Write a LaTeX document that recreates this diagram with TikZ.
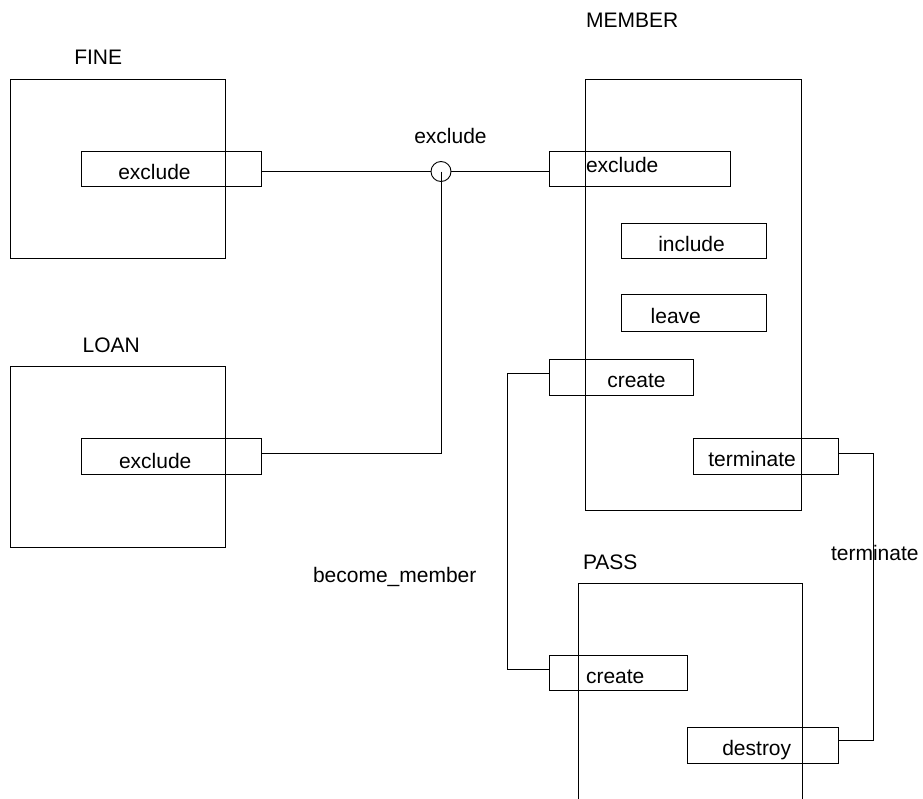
\documentclass[tikz,border=0pt]{standalone}
\usepackage{fontspec}
\setmainfont{Liberation Sans}
\begin{document}
\begin{tikzpicture}[x=1pt,y=-1pt,
  line width=0.9pt,
  every node/.style={font=\fontsize{21}{25}\selectfont},
  objbox/.style={draw, inner sep=0pt, outer sep=0pt},
  portbox/.style={draw, inner sep=0pt, outer sep=0pt},
  txt/.style={anchor=base west, inner sep=0pt, outer sep=0pt},
  junction/.style={draw, circle, minimum size=20pt, inner sep=0pt, outer sep=0pt},
  wire/.style={draw}]
\useasboundingbox (0,0) rectangle (923,798);
\clip (0,0) rectangle (923,798);

% object boxes
\node[objbox, minimum width=215pt, minimum height=179pt] (fine) at (117.5,168.5) {};
\node[objbox, minimum width=215pt, minimum height=181pt] (loan) at (117.5,456.5) {};
\node[objbox, minimum width=216pt, minimum height=431pt] (member) at (693,294.5) {};
\node[objbox, minimum width=224pt, minimum height=247pt] (pass) at (690,706.5) {};

% object titles
\node[txt] (fineT) at (74.3,64) {FINE};
\node[txt] (loanT) at (82.7,352.7) {LOAN};
\node[txt] (memberT) at (586,27.7) {MEMBER};
\node[txt] (passT) at (583,569) {PASS};

% event ports
\node[portbox, minimum width=180pt, minimum height=35pt] (fex) at (171,168.5) {};
\node[portbox, minimum width=180pt, minimum height=36pt] (lex) at (171,456) {};
\node[portbox, minimum width=181pt, minimum height=35pt] (mex) at (639.5,168.5) {};
\node[portbox, minimum width=145pt, minimum height=35pt] (minc) at (693.5,240.5) {};
\node[portbox, minimum width=145pt, minimum height=37pt] (mlv) at (693.5,312.5) {};
\node[portbox, minimum width=144pt, minimum height=36pt] (mcr) at (621,377) {};
\node[portbox, minimum width=145pt, minimum height=36pt] (mterm) at (765.5,456) {};
\node[portbox, minimum width=138pt, minimum height=35pt] (pcr) at (618,672.5) {};
\node[portbox, minimum width=151pt, minimum height=36pt] (pdes) at (762.5,745) {};

% port texts
\node[txt] (fexT) at (118.3,179.5) {exclude};
\node[txt] (lexT) at (119,468.3) {exclude};
\node[txt] (mexT) at (586,172) {exclude};
\node[txt] (mincT) at (658.3,251) {include};
\node[txt] (mlvT) at (650.7,323.3) {leave};
\node[txt] (mcrT) at (607.3,387.3) {create};
\node[txt] (mtermT) at (708.3,466.7) {terminate};
\node[txt] (pcrT) at (586,683.3) {create};
\node[txt] (pdesT) at (722.3,755) {destroy};

% exclude junction
\node[junction] (jn) at (441,171.5) {};
\node[txt] (jnT) at (414.3,143.3) {exclude};
\coordinate (jcorner) at (441,453);
\path[wire] (fex.east |- jn) -- (jn.west);
\path[wire] (jn.east) -- (mex.west |- jn);
\path[wire] (jn.center) -- (jcorner) -- (lex.east |- jcorner);

% become_member
\coordinate (bmtop) at (507,373);
\coordinate (bmbot) at (507,669);
\path[wire] (mcr.west |- bmtop) -- (bmtop) -- (bmbot) -- (pcr.west |- bmbot);
\node[txt] (bmT) at (313,582.7) {become\_member};

% terminate
\coordinate (tmtop) at (873,453);
\coordinate (tmbot) at (873,740);
\path[wire] (mterm.east |- tmtop) -- (tmtop) -- (tmbot) -- (pdes.east |- tmbot);
\node[txt] (tmT) at (831,560) {terminate};
\end{tikzpicture}
\end{document}
